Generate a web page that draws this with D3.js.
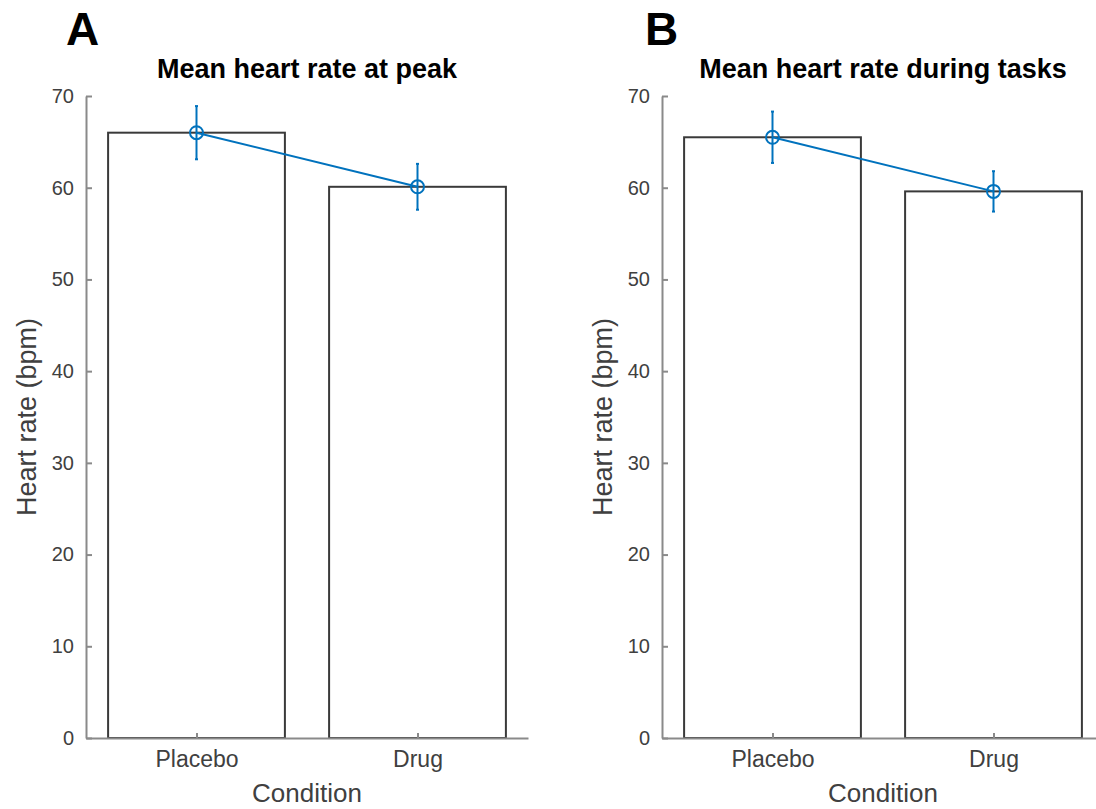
<!DOCTYPE html>
<html>
<head>
<meta charset="utf-8">
<script src="https://cdn.jsdelivr.net/npm/d3@7"></script>
<style>
  body { margin: 0; background: #fff; }
  svg { display: block; font-family: "Liberation Sans", Arial, sans-serif; }
</style>
</head>
<body>
<svg id="fig" width="1096" height="809"></svg>
<script>
// data
var conditions = ['Placebo', 'Drug'];
var peakMeans = [66.0, 60.1];
var peakErr = [2.9, 2.5];
var taskMeans = [65.5, 59.6];
var taskErr = [2.8, 2.2];
var yTicks = [0, 10, 20, 30, 40, 50, 60, 70];

var svg = d3.select('#fig');
var blue = '#0072BD';

var panels = [
  {letter: 'A', title: 'Mean heart rate at peak', means: peakMeans, err: peakErr, left: 86, letterX: 66},
  {letter: 'B', title: 'Mean heart rate during tasks', means: taskMeans, err: taskErr, left: 662, letterX: 645}
];

var axTop = 96, axBottom = 738, axisW = 442;

var drawPanel = (p) => {
  var x = d3.scaleLinear().domain([0.5, 2.5]).range([p.left, p.left + axisW]);
  var y = d3.scaleLinear().domain([0, 70]).range([axBottom, axTop]);
  var g = svg.append('g');

  // bars
  g.selectAll('rect.bar')
   .data(p.means)
   .enter()
   .append('rect')
   .attr('class', 'bar')
   .attr('x', (d, i) => x(i + 1 - 0.4))
   .attr('width', x(1.4) - x(0.6))
   .attr('y', d => y(d))
   .attr('height', d => y(0) - y(d))
   .attr('fill', 'white')
   .attr('stroke', '#3a3a3a')
   .attr('stroke-width', 2);

  // y axis
  var yAxis = d3.axisLeft(y).tickValues(yTicks).tickSizeInner(-6).tickSizeOuter(0).tickPadding(12);
  var ya = g.append('g').attr('transform', 'translate(' + p.left + ',0)').call(yAxis);
  // x axis
  var xAxis = d3.axisBottom(x).tickValues([1, 2]).tickFormat((d, i) => conditions[i])
    .tickSizeInner(-5).tickSizeOuter(0).tickPadding(13);
  var xa = g.append('g').attr('transform', 'translate(0,' + axBottom + ')').call(xAxis);

  [ya, xa].forEach(a => {
    a.select('.domain').attr('stroke', '#8a8a8a').attr('stroke-width', 2);
    a.selectAll('.tick line').attr('stroke', '#8a8a8a').attr('stroke-width', 2);
    a.selectAll('.tick text').attr('fill', '#404040')
     .style('font-family', '"Liberation Sans", Arial, sans-serif');
  });
  ya.selectAll('.tick text').style('font-size', '20px');
  xa.selectAll('.tick text').style('font-size', '23px');

  // line between means
  var line = d3.line().x((d, i) => x(i + 1)).y(d => y(d));
  g.append('path')
   .datum(p.means)
   .attr('d', line)
   .attr('fill', 'none')
   .attr('stroke', blue)
   .attr('stroke-width', 2);

  // error bars
  g.selectAll('line.err')
   .data(p.means)
   .enter()
   .append('line')
   .attr('x1', (d, i) => x(i + 1))
   .attr('x2', (d, i) => x(i + 1))
   .attr('y1', (d, i) => y(d - p.err[i]))
   .attr('y2', (d, i) => y(d + p.err[i]))
   .attr('stroke', blue)
   .attr('stroke-width', 2);

  var caps = [];
  p.means.forEach((d, i) => { caps.push([i + 1, d - p.err[i]]); caps.push([i + 1, d + p.err[i]]); });
  g.selectAll('line.cap')
   .data(caps)
   .enter()
   .append('line')
   .attr('x1', d => x(d[0]) - 1.5)
   .attr('x2', d => x(d[0]) + 1.5)
   .attr('y1', d => y(d[1]))
   .attr('y2', d => y(d[1]))
   .attr('stroke', blue)
   .attr('stroke-width', 2);

  g.selectAll('circle.mk')
   .data(p.means)
   .enter()
   .append('circle')
   .attr('cx', (d, i) => x(i + 1))
   .attr('cy', d => y(d))
   .attr('r', 6.5)
   .attr('fill', 'none')
   .attr('stroke', blue)
   .attr('stroke-width', 2);

  // labels
  var cx = p.left + axisW / 2;
  g.append('text')
   .attr('x', cx).attr('y', 78)
   .attr('text-anchor', 'middle')
   .style('font-size', '27px').style('font-weight', 'bold')
   .attr('fill', '#000')
   .text(p.title);

  g.append('text')
   .attr('x', cx).attr('y', 802)
   .attr('text-anchor', 'middle')
   .style('font-size', '26px')
   .attr('fill', '#404040')
   .text('Condition');

  g.append('text')
   .attr('transform', 'translate(' + (p.left - 50) + ',' + ((axTop + axBottom) / 2) + ') rotate(-90)')
   .attr('text-anchor', 'middle')
   .style('font-size', '27px')
   .attr('fill', '#404040')
   .text('Heart rate (bpm)');

  g.append('text')
   .attr('x', p.letterX).attr('y', 45)
   .style('font-size', '46px').style('font-weight', 'bold')
   .attr('fill', '#000')
   .text(p.letter);
}

panels.forEach(drawPanel);
</script>
</body>
</html>
